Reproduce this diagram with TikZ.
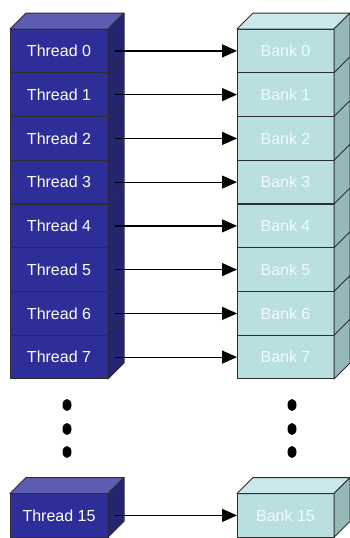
\documentclass[tikz,border=0pt]{standalone}
\usepackage{fontspec}
\setmainfont{Liberation Sans}
\usetikzlibrary{arrows.meta, calc}
\definecolor{threadFront}{RGB}{46, 46, 152}
\definecolor{threadTop}{RGB}{92, 92, 176}
\definecolor{threadSide}{RGB}{36, 36, 112}
\definecolor{bankFront}{RGB}{185, 223, 225}
\definecolor{bankTop}{RGB}{202, 231, 233}
\definecolor{bankSide}{RGB}{149, 185, 185}
\definecolor{bankText}{RGB}{240, 250, 250}
\definecolor{edgeColor}{RGB}{45, 45, 50}

\begin{document}
\begin{tikzpicture}[x=1pt, y={(0,-1pt)},
    every node/.style={rectangle, draw=edgeColor, line width=1pt, inner sep=0pt, outer sep=0pt,
        minimum height=43.75pt, font=\fontsize{16}{19}\selectfont},
    thread/.style={fill=threadFront, text=white, minimum width=98pt},
    bank/.style={fill=bankFront, text=bankText, minimum width=97pt},
    face/.style={draw=edgeColor, line width=1pt, line join=round},
    link/.style={line width=1.2pt, draw=black, -{Triangle[length=15pt, width=13pt]}}]
    \useasboundingbox (0,0) rectangle (350,538);

    % threads
    \node[thread] (t0) at (59,50.9) {Thread 0};
    \node[thread] (t1) at (59,94.6) {Thread 1};
    \node[thread] (t2) at (59,138.4) {Thread 2};
    \node[thread] (t3) at (59,182.1) {Thread 3};
    \node[thread] (t4) at (59,225.9) {Thread 4};
    \node[thread] (t5) at (59,269.6) {Thread 5};
    \node[thread] (t6) at (59,313.4) {Thread 6};
    \node[thread] (t7) at (59,357.1) {Thread 7};
    \node[thread] (t15) at (59,515.4) {Thread 15};

    % banks
    \node[bank] (b0) at (285.5,50.9) {Bank 0};
    \node[bank] (b1) at (285.5,94.6) {Bank 1};
    \node[bank] (b2) at (285.5,138.4) {Bank 2};
    \node[bank] (b3) at (285.5,182.1) {Bank 3};
    \node[bank] (b4) at (285.5,225.9) {Bank 4};
    \node[bank] (b5) at (285.5,269.6) {Bank 5};
    \node[bank] (b6) at (285.5,313.4) {Bank 6};
    \node[bank] (b7) at (285.5,357.1) {Bank 7};
    \node[bank] (b15) at (285.5,515.4) {Bank 15};

    % top and side faces
    \draw[face, fill=threadTop] (t0.north west) -- ++(16,-16) -- ++(98,0) -- (t0.north east) -- cycle;
    \draw[face, fill=threadSide] (t0.north east) -- ++(16,-16) -- ($(t7.south east)+(16,-16)$) -- (t7.south east) -- cycle;
    \draw[face, fill=threadTop] (t15.north west) -- ++(16,-16) -- ++(98,0) -- (t15.north east) -- cycle;
    \draw[face, fill=threadSide] (t15.north east) -- ++(16,-16) -- ($(t15.south east)+(16,-16)$) -- (t15.south east) -- cycle;
    \draw[face, fill=bankTop] (b0.north west) -- ++(16,-16) -- ++(97,0) -- (b0.north east) -- cycle;
    \draw[face, fill=bankSide] (b0.north east) -- ++(16,-16) -- ($(b7.south east)+(16,-16)$) -- (b7.south east) -- cycle;
    \draw[face, fill=bankTop] (b15.north west) -- ++(16,-16) -- ++(97,0) -- (b15.north east) -- cycle;
    \draw[face, fill=bankSide] (b15.north east) -- ++(16,-16) -- ($(b15.south east)+(16,-16)$) -- (b15.south east) -- cycle;
    \foreach \n in {t0,t1,t2,t3,t4,t5,t6,b0,b1,b2,b3,b4,b5,b6}
        \draw[face] (\n.south east) -- ++(16,-16);

    % one thread to one bank
    \draw[link] ([xshift=7pt]t0.east) -- (b0.west);
    \draw[link] ([xshift=7pt]t1.east) -- (b1.west);
    \draw[link] ([xshift=7pt]t2.east) -- (b2.west);
    \draw[link] ([xshift=7pt]t3.east) -- (b3.west);
    \draw[link] ([xshift=7pt]t4.east) -- (b4.west);
    \draw[link] ([xshift=7pt]t5.east) -- (b5.west);
    \draw[link] ([xshift=7pt]t6.east) -- (b6.west);
    \draw[link] ([xshift=7pt]t7.east) -- (b7.west);
    \draw[link] ([xshift=7pt]t15.east) -- (b15.west);

    % dots
    \fill (67,405) ellipse (4.5 and 6);
    \fill (67,429) ellipse (4.5 and 6);
    \fill (67,452) ellipse (4.5 and 6);
    \fill (292,405) ellipse (4.5 and 6);
    \fill (292,429) ellipse (4.5 and 6);
    \fill (292,452) ellipse (4.5 and 6);
\end{tikzpicture}
\end{document}
